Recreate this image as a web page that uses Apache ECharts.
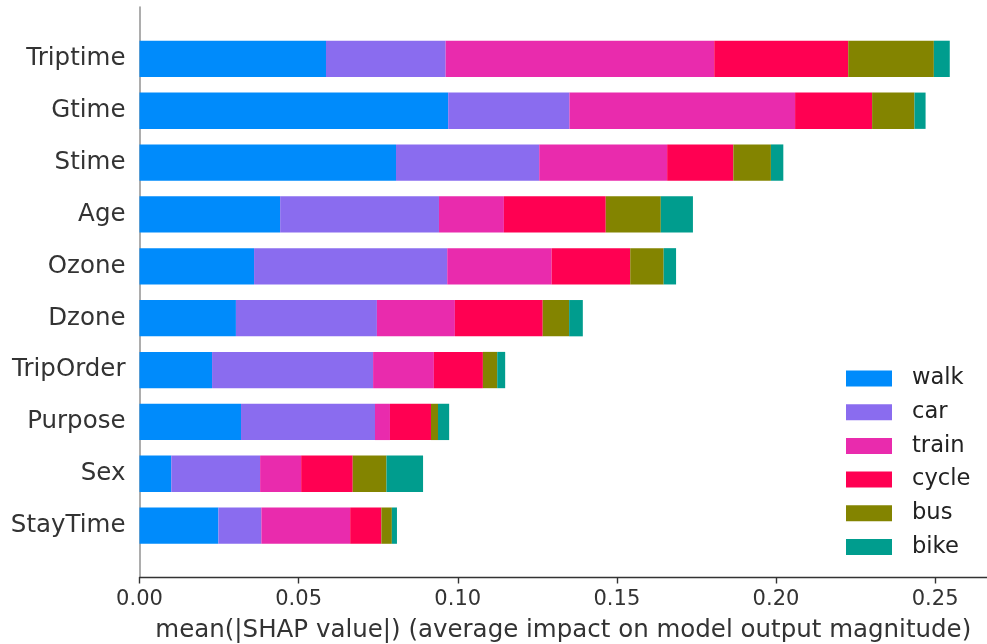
<!DOCTYPE html>
<html>
<head>
<meta charset="utf-8">
<script src="https://cdn.jsdelivr.net/npm/echarts@6/dist/echarts.min.js"></script>
<style>
  html, body { margin: 0; padding: 0; background: #fff; }
  #chart { width: 987px; height: 644px; }
</style>
</head>
<body>
<div id="chart"></div>
<script>
// features, top to bottom
const features = ['Triptime', 'Gtime', 'Stime', 'Age', 'Ozone', 'Dzone', 'TripOrder', 'Purpose', 'Sex', 'StayTime'];
const modes = ['walk', 'car', 'train', 'cycle', 'bus', 'bike'];
const xTicks = [0, 0.05, 0.10, 0.15, 0.20, 0.25];

// mean |SHAP| per mode
const walk  = [0.0586, 0.0970, 0.0806, 0.0442, 0.0360, 0.0303, 0.0228, 0.0319, 0.0100, 0.0248];
const car   = [0.0376, 0.0381, 0.0450, 0.0499, 0.0607, 0.0443, 0.0506, 0.0421, 0.0279, 0.0135];
const train = [0.0844, 0.0709, 0.0402, 0.0204, 0.0328, 0.0245, 0.0191, 0.0047, 0.0129, 0.0279];
const cycle = [0.0421, 0.0242, 0.0208, 0.0320, 0.0247, 0.0276, 0.0154, 0.0129, 0.0162, 0.0098];
const bus   = [0.0269, 0.0133, 0.0118, 0.0173, 0.0105, 0.0083, 0.0045, 0.0022, 0.0106, 0.0033];
const bike  = [0.0050, 0.0035, 0.0039, 0.0101, 0.0039, 0.0043, 0.0025, 0.0035, 0.0115, 0.0016];

const colors = ['#008bfb', '#8a6cef', '#e92bad', '#ff0052', '#838400', '#009d8e'];
const values = [walk, car, train, cycle, bus, bike];

// pad one empty slot above and below, like the ylim(-1, n) of the original
const cats = [''].concat(features, ['']);

const chart = echarts.init(document.getElementById('chart'));

const series = modes.map((m, i) => ({
  name: m,
  type: 'bar',
  stack: 'total',
  barWidth: '70%',
  itemStyle: { color: colors[i] },
  data: [null].concat(values[i], [null])
}));

chart.setOption({
  animation: false,
  textStyle: { fontFamily: 'DejaVu Sans' },
  grid: { left: 139.5, right: 0, top: 7, bottom: 66.5, outerBoundsMode: 'none', containLabel: false },
  legend: {
    data: modes,
    orient: 'vertical',
    left: 841,
    top: 362,
    padding: 5,
    icon: 'rect',
    itemWidth: 46,
    itemHeight: 16,
    itemGap: 10.7,
    textStyle: { fontSize: 22.6, lineHeight: 22.6, color: '#222', padding: [0, 0, 0, 15] }
  },
  xAxis: {
    type: 'value',
    min: 0,
    max: 0.2663,
    interval: 0.05,
    splitLine: { show: false },
    axisLine: { show: true, lineStyle: { color: '#333', width: 1.4 } },
    axisTick: { show: true, length: 6, lineStyle: { color: '#333', width: 1.4 } },
    axisLabel: {
      fontSize: 21,
      color: '#333',
      margin: 12,
      showMaxLabel: false,
      formatter: v => xTicks.some(t => Math.abs(t - v) < 1e-9) ? v.toFixed(2) : ''
    },
    name: 'mean(|SHAP value|) (average impact on model output magnitude)',
    nameLocation: 'middle',
    nameGap: 41,
    nameTextStyle: { fontSize: 24.5, color: '#333' }
  },
  yAxis: {
    type: 'category',
    data: cats,
    inverse: true,
    boundaryGap: false,
    axisLine: { lineStyle: { color: '#999', width: 1.6 } },
    axisTick: { show: false },
    splitLine: { show: false },
    axisLabel: { fontSize: 24.5, color: '#333', margin: 14 }
  },
  series: series
});
</script>
</body>
</html>
